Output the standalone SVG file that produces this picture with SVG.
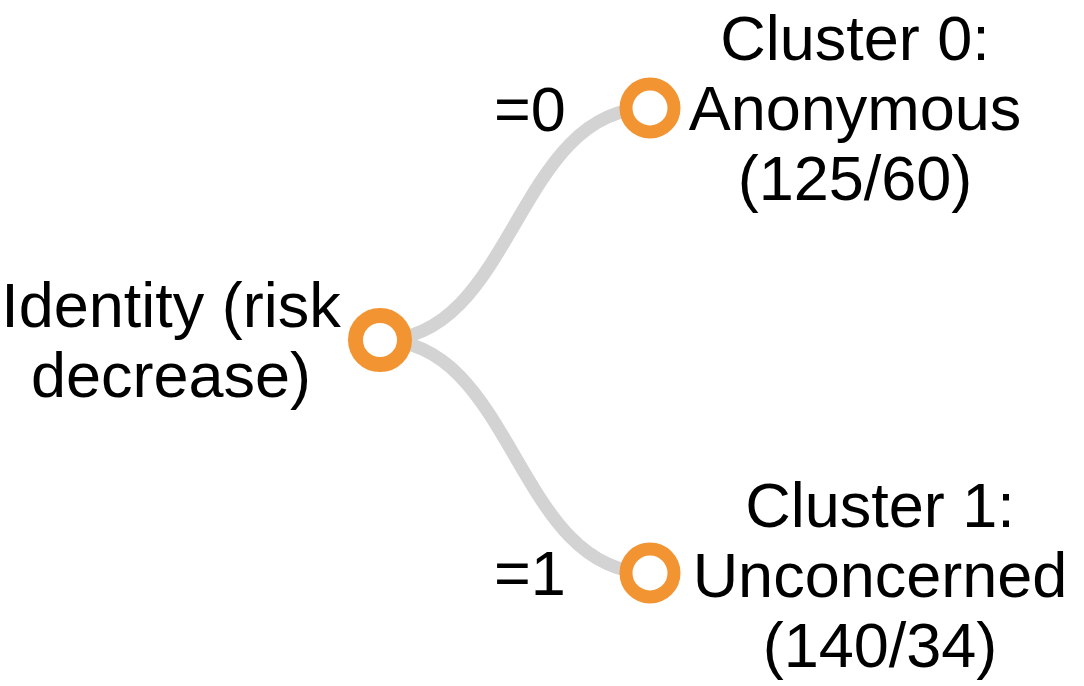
<svg xmlns="http://www.w3.org/2000/svg" width="1084" height="686" viewBox="0 0 1084 686">
<style>
.link{fill:none;stroke:#d3d3d3;stroke-width:13}
.node circle{fill:#ffffff;stroke:#f29432;stroke-width:13}
text{font-family:"Liberation Sans",Arial,Helvetica,sans-serif;font-size:63px;fill:#000000}
.lbl{text-anchor:middle}
</style>
<rect width="1084" height="686" fill="#ffffff"/>
<g id="links">
<path class="link" d="M380,340 C515,340 515,108 650,108"/>
<path class="link" d="M380,340 C515,340 515,573 650,573"/>
<text x="494" y="131">=0</text>
<text x="494" y="595">=1</text>
</g>
<g id="node-root" class="node">
<circle cx="380" cy="340" r="24.5" style="stroke-width:15"/>
<text class="lbl" x="171" y="327">Identity (risk</text>
<text class="lbl" x="171" y="397">decrease)</text>
</g>
<g id="node-cluster0" class="node">
<circle cx="650" cy="108" r="24"/>
<text class="lbl" x="855" y="60">Cluster 0:</text>
<text class="lbl" x="855" y="130">Anonymous</text>
<text class="lbl" x="855" y="200">(125/60)</text>
</g>
<g id="node-cluster1" class="node">
<circle cx="650" cy="573" r="24"/>
<text class="lbl" x="880" y="527">Cluster 1:</text>
<text class="lbl" x="880" y="597">Unconcerned</text>
<text class="lbl" x="880" y="667">(140/34)</text>
</g>
</svg>
